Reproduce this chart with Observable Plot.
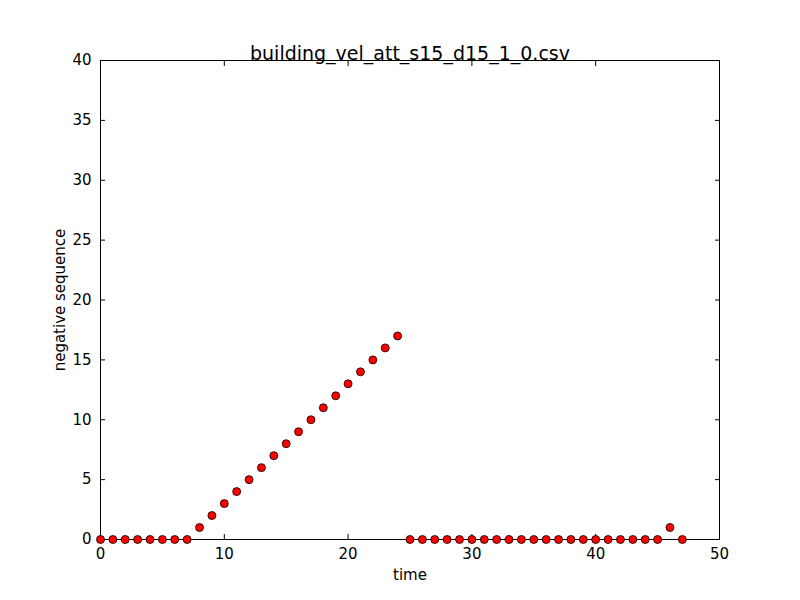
<!DOCTYPE html>
<html><head><meta charset="utf-8">
<script src="https://cdn.jsdelivr.net/npm/d3@7"></script>
<script src="https://cdn.jsdelivr.net/npm/@observablehq/plot@0.6"></script>
<style>body{margin:0;background:#fff;font-family:"DejaVu Sans";}</style>
</head><body><div id="c"></div>
<script>
const times = d3.range(0, 48);
const values = [0,0,0,0,0,0,0,0,1,2,3,4,5,6,7,8,9,10,11,12,13,14,15,16,17,0,0,0,0,0,0,0,0,0,0,0,0,0,0,0,0,0,0,0,0,0,1,0];
const xTicks = [0,10,20,30,40,50];
const yTicks = [0,5,10,15,20,25,30,35,40];
const data = times.map((t,i)=>({time:t, value:values[i]}));
const chart = Plot.plot({
  width:800, height:600, marginLeft:100, marginRight:81, marginTop:60, marginBottom:61,
  style:{fontFamily:"DejaVu Sans", fontSize:"15px", color:"black", background:"white"},
  x:{domain:[0,50]}, y:{domain:[0,40]},
  marks:[
    Plot.frame({stroke:"black"}),
    Plot.axisX({ticks:xTicks, tickSize:-5, tickPadding:14, label:"time", labelAnchor:"center", labelArrow:"none", labelOffset:40, fontSize:15}),
    Plot.axisX({anchor:"top", ticks:xTicks, tickSize:-5, tickFormat:()=>"", label:null}),
    Plot.axisY({ticks:yTicks, tickSize:-5, tickPadding:14, label:"negative sequence", labelAnchor:"center", labelArrow:"none", labelOffset:46, fontSize:15}),
    Plot.axisY({anchor:"right", ticks:yTicks, tickSize:-5, tickFormat:()=>"", label:null}),
    Plot.dot(data, {x:"time", y:"value", r:4, fill:"red", stroke:"black", strokeWidth:0.8}),
    Plot.text(["building_vel_att_s15_d15_1_0.csv"], {frameAnchor:"top", dy:-14, fontSize:19, text:d=>d})
  ]
});
document.getElementById("c").append(chart);
</script></body></html>
